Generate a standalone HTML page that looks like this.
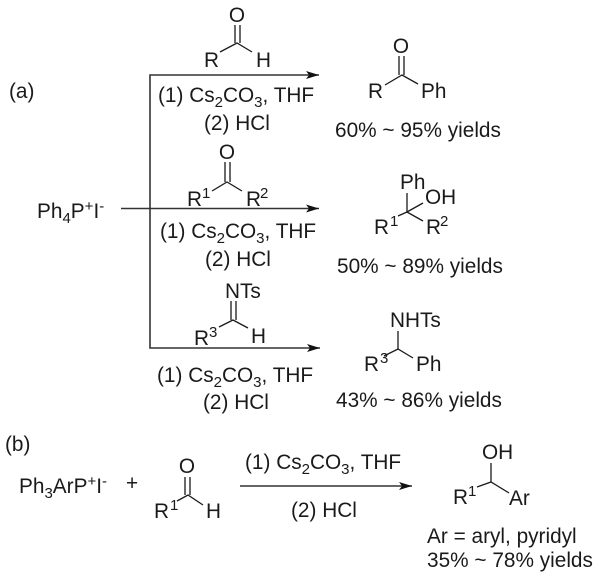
<!DOCTYPE html>
<html><head><meta charset="utf-8">
<style>
html,body{margin:0;padding:0;background:#fff}
svg{display:block}
text{font-family:"Liberation Sans",sans-serif;font-size:20.8px;fill:#1a1a1a}
.s{font-size:15px}
line,polyline{stroke:#1a1a1a;stroke-width:1.3;fill:none}
.m{stroke:#333;stroke-width:1.6}
</style></head><body>
<svg width="600" height="578" viewBox="0 0 600 578" xmlns="http://www.w3.org/2000/svg">
<!-- main arrows -->
<polyline class="m" points="319,75 150,75 150,348 320,348"/>
<line class="m" x1="121" y1="208.5" x2="319" y2="208.5"/>
<line class="m" x1="240" y1="486" x2="412" y2="486"/>
<polygon points="319,75 306,71 309,75 306,79" fill="#111"/>
<polygon points="319,208.5 306,204.5 309,208.5 306,212.5" fill="#111"/>
<polygon points="320,348 307,344 310,348 307,352" fill="#111"/>
<polygon points="412,486 399,482 402,486 399,490" fill="#111"/>

<text x="9" y="98">(a)</text>
<text x="5" y="451">(b)</text>

<!-- aldehyde -->
<text x="237" y="22" text-anchor="middle">O</text>
<text x="204" y="67">R</text><text x="256" y="67">H</text>
<line x1="235" y1="25" x2="235" y2="43"/><line x1="240" y1="25" x2="240" y2="43"/>
<polyline points="220,52 237,43 252,52"/>
<text x="158" y="102">(1) Cs<tspan class="s" dy="5">2</tspan><tspan dy="-5">CO</tspan><tspan class="s" dy="5">3</tspan><tspan dy="-5">, THF</tspan></text>
<text x="204" y="130">(2) HCl</text>

<!-- ketone -->
<text x="227" y="159" text-anchor="middle">O</text>
<line x1="225" y1="162" x2="225" y2="182"/><line x1="230" y1="162" x2="230" y2="182"/>
<polyline points="212,191 227,182 242,191"/>
<text x="187" y="206">R</text><text class="s" x="202" y="198">1</text>
<text x="246" y="206">R</text><text class="s" x="260" y="198">2</text>
<text x="37" y="218">Ph<tspan class="s" dy="5">4</tspan><tspan dy="-5">P</tspan><tspan class="s" dy="-7">+</tspan><tspan dy="7">I</tspan><tspan class="s" dy="-7">-</tspan></text>
<text x="160" y="238">(1) Cs<tspan class="s" dy="5">2</tspan><tspan dy="-5">CO</tspan><tspan class="s" dy="5">3</tspan><tspan dy="-5">, THF</tspan></text>
<text x="205" y="266">(2) HCl</text>

<!-- imine -->
<text x="225" y="298">NTs</text>
<line x1="231" y1="301" x2="231" y2="320"/><line x1="236" y1="301" x2="236" y2="320"/>
<polyline points="219,327 233,320 248,328"/>
<text x="194" y="345">R</text><text class="s" x="209" y="337">3</text>
<text x="251" y="343">H</text>
<text x="157" y="382">(1) Cs<tspan class="s" dy="5">2</tspan><tspan dy="-5">CO</tspan><tspan class="s" dy="5">3</tspan><tspan dy="-5">, THF</tspan></text>
<text x="203" y="409">(2) HCl</text>

<!-- product 1 -->
<text x="401" y="53" text-anchor="middle">O</text>
<line x1="399" y1="56" x2="399" y2="75"/><line x1="404" y1="56" x2="404" y2="75"/>
<polyline points="385,85 402,75 418,84"/>
<text x="368" y="98">R</text><text x="421" y="98">Ph</text>
<text x="335" y="137">60% ~ 95% yields</text>

<!-- product 2 -->
<text x="400" y="189">Ph</text><text x="425" y="204">OH</text>
<line x1="407" y1="193" x2="407" y2="212"/>
<line x1="407" y1="212" x2="423" y2="203"/>
<polyline points="398,216 407,212 423,221"/>
<text x="374" y="234">R</text><text class="s" x="390" y="226">1</text>
<text x="426" y="234">R</text><text class="s" x="440" y="226">2</text>
<text x="337" y="273">50% ~ 89% yields</text>

<!-- product 3 -->
<text x="390" y="327">NHTs</text>
<line x1="398" y1="331" x2="398" y2="349"/>
<polyline points="384,356 398,349 413,358"/>
<text x="364" y="371">R</text><text class="s" x="380" y="363">3</text>
<text x="416" y="371">Ph</text>
<text x="336" y="407">43% ~ 86% yields</text>

<!-- part b -->
<text x="19" y="493">Ph<tspan class="s" dy="5">3</tspan><tspan dy="-5">ArP</tspan><tspan class="s" dy="-7">+</tspan><tspan dy="7">I</tspan><tspan class="s" dy="-7">-</tspan></text>
<text x="126" y="490">+</text>
<text x="187" y="473" text-anchor="middle">O</text>
<line x1="185" y1="477" x2="185" y2="495"/><line x1="190" y1="477" x2="190" y2="495"/>
<polyline points="177,501 188,495 203,505"/>
<text x="154" y="518">R</text><text class="s" x="170" y="510">1</text>
<text x="206" y="518">H</text>
<text x="245" y="469">(1) Cs<tspan class="s" dy="5">2</tspan><tspan dy="-5">CO</tspan><tspan class="s" dy="5">3</tspan><tspan dy="-5">, THF</tspan></text>
<text x="291" y="517">(2) HCl</text>
<text x="482" y="459">OH</text>
<line x1="491" y1="463" x2="491" y2="482"/>
<polyline points="477,487 491,482 509,493"/>
<text x="453" y="504">R</text><text class="s" x="468" y="496">1</text>
<text x="509" y="505">Ar</text>
<text x="427" y="543">Ar = aryl, pyridyl</text>
<text x="427" y="567">35% ~ 78% yields</text>
</svg>
</body></html>
